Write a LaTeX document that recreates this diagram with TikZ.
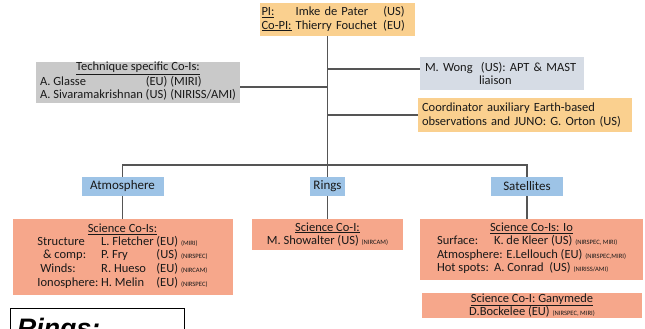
\documentclass[tikz,border=0pt]{standalone}
\usepackage{fontspec}
\setmainfont{Carlito}
\newfontfamily\notefont{Liberation Sans}
\usepackage{tikz}
\usetikzlibrary{positioning, calc}

\definecolor{leadorange}{HTML}{FAD08F}
\definecolor{techgray}{HTML}{C9C9C9}
\definecolor{liaisonblue}{HTML}{D6DCE5}
\definecolor{topicblue}{HTML}{9DC3E6}
\definecolor{scisalmon}{HTML}{F6A78B}
\definecolor{linegray}{HTML}{555555}

\newcommand{\instr}[1]{{\fontsize{6.6}{7}\selectfont(#1)}}

\begin{document}
\begin{tikzpicture}[x=1pt, y=1pt,
		box/.style={rectangle, inner sep=2pt, text=black!90, font=\fontsize{12.5}{13.7}\selectfont},
		lead/.style={box, fill=leadorange},
		techbox/.style={box, fill=techgray, align=center},
		liaison/.style={box, fill=liaisonblue, align=left, inner sep=5pt},
		topic/.style={box, fill=topicblue, font=\fontsize{13}{14}\selectfont},
		sci/.style={box, fill=scisalmon, align=center},
		link/.style={draw=linegray, line width=1.1pt}
		]
		\useasboundingbox (0,0) rectangle (645,-329);
		\clip (0,0) rectangle (645,-329);
		\fill[white] (0,0) rectangle (645,-329);
		% Lead and advisory boxes
		\node[lead, text width=151, align=left, minimum height=33] (pi) at (337,-19.5) {%
			\begin{tabular}{@{}l@{\ }l@{\ \,}l@{}}
				\underline{PI:} & Imke de Pater & (US)\\
				\underline{Co-PI:} & Thierry Fouchet & (EU)
			\end{tabular}};
		\node[techbox, minimum width=204, minimum height=41, inner sep=0pt] (tech) at (138,-82.5) {%
			\underline{Technique specific Co-Is:}\\
			\begin{tabular}{@{}l@{\ }l@{\ }l@{}}
				A. Glasse & (EU) & (MIRI)\\
				A. Sivaramakrishnan & (US) & (NIRISS/AMI)
			\end{tabular}};
		\node[liaison, text width=154, minimum height=33] (wong) at (502,-73.5)
			{M. Wong\ \ (US): APT \& MAST\\\hspace*{54pt}liaison};
		\node[liaison, fill=leadorange, text width=206, inner sep=4pt, minimum height=34] (coord) at (525,-115)
			{Coordinator auxiliary Earth-based\\observations and JUNO: G. Orton (US)};
		% Topic boxes
		\foreach \n/\x/\w/\t in {atm/122.5/82/Atmosphere, rings/327.5/35/Rings, sat/527/72/Satellites} {
			\node[topic, minimum width=\w, minimum height=19] (\n) at (\x,-186.5) {\t};
		}
		% Science boxes
		\node[sci, minimum width=220, minimum height=76, inner sep=1pt] (atmsci) at (122.5,-257) {%
			\underline{Science Co-Is:}\\
			\begin{tabular}{@{}l@{\ }l@{\ }l@{\ }l@{}}
				Structure & L. Fletcher & (EU) & \instr{MIRI}\\
				\ \ \& comp: & P. Fry & (US) & \instr{NIRSPEC}\\
				\ Winds: & R. Hueso & (EU) & \instr{NIRCAM}\\
				Ionosphere: & H. Melin & (EU) & \instr{NIRSPEC}
			\end{tabular}};
		\node[sci, minimum width=151, minimum height=31, inner sep=1pt] (ringsci) at (327.5,-234.5)
			{\underline{Science Co-I:}\\M. Showalter (US) \instr{NIRCAM}};
		\node[sci, minimum width=223, minimum height=61, inner sep=1pt] (iosci) at (531.5,-249.5) {%
			\underline{Science Co-Is: Io}\\
			\begin{tabular}{@{}l@{}}
				\makebox[57pt][l]{Surface:}K. de Kleer (US) \instr{NIRSPEC, MIRI}\\
				Atmosphere: E.Lellouch (EU) \instr{NIRSPEC,MIRI}\\
				\makebox[57pt][l]{Hot spots:}A. Conrad\ \ (US) \instr{NIRISS/AMI}
			\end{tabular}};
		\node[sci, minimum width=220, minimum height=25, inner sep=0pt] (ganysci) at (532,-305.5)
			{\underline{Science Co-I: Ganymede}\\D.Bockelee (EU) \instr{NIRSPEC, MIRI}};
		% Connectors
		\draw[link] (pi.south -| rings.north) -- (rings.north);
		\draw[link] ([yshift=-4.5pt]tech.east) -- ([yshift=-4.5pt]tech.east -| rings.north);
		\draw[link] ([yshift=4.5pt]wong.west) -- ([yshift=4.5pt]wong.west -| rings.north);
		\draw[link] (coord.west) -- (coord.west -| rings.north);
		\coordinate (bar) at (0,-165);
		\draw[link] (atm.north) -- (atm.north |- bar) -- (sat.north |- bar) -- (sat.north);
		\foreach \t/\s in {atm/atmsci, rings/ringsci, sat/iosci} {
			\draw[link] (\t.south) -- (\t.south |- \s.north);
		}
		% Note box, cut at the lower edge
		\node[draw=black, line width=1.2pt, minimum width=174, minimum height=40, anchor=north west] (ringsnote) at (10,-308) {};
		\node[anchor=base west, inner sep=0pt, font=\notefont\bfseries\itshape\fontsize{26.7}{30}\selectfont] (ringstitle) at (17,-337) {Rings:};
	\end{tikzpicture}
\end{document}
